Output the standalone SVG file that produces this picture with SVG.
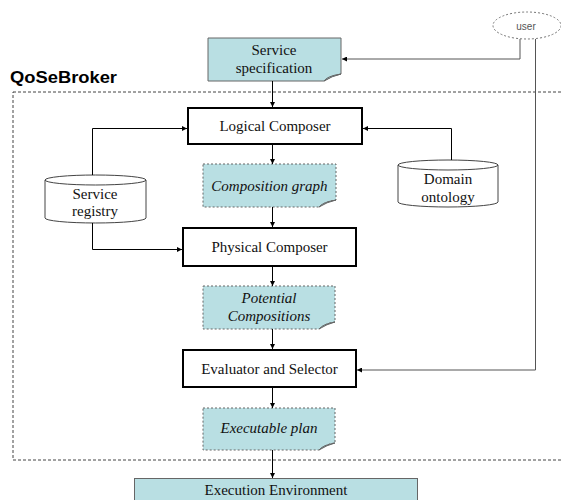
<svg xmlns="http://www.w3.org/2000/svg" width="561" height="500" viewBox="0 0 561 500">
<defs>
<marker id="ah" viewBox="0 0 10 10" refX="10" refY="5" markerWidth="5" markerHeight="5" orient="auto" markerUnits="userSpaceOnUse">
<path d="M0,0 L10,5 L0,10 z" fill="#000"/>
</marker>
<style>
text{font-family:'Liberation Serif','Times New Roman',Times,'DejaVu Serif',serif}
.t{font-size:15px;fill:#111;text-anchor:middle}
.i{font-style:italic}
.s{font-family:'Liberation Sans',Arial,Helvetica,'DejaVu Sans',sans-serif}
.proc{fill:#fff;stroke:#000;stroke-width:2}
.doc{fill:#b9dfe3;stroke:#666;stroke-width:1}
.ddoc{fill:#b9dfe3;stroke:#666;stroke-width:1;stroke-dasharray:2,2}
.fold{fill:#9fc8cc;stroke:#666;stroke-width:1}
.db{fill:#fff;stroke:#444;stroke-width:1}
.c{fill:none;stroke:#000;stroke-width:1}
.g{fill:none;stroke:#555;stroke-width:1}
</style>
</defs>
<rect width="561" height="500" fill="#fff"/>

<g id="qosebroker">
<rect x="13" y="92" width="600" height="368" fill="none" stroke="#444" stroke-width="1" stroke-dasharray="3,2"/>
<text class="s" x="10" y="83" font-size="16" font-weight="bold" fill="#000" textLength="107" lengthAdjust="spacingAndGlyphs">QoSeBroker</text>
</g>

<g id="user">
<ellipse cx="527" cy="25.5" rx="34" ry="13.5" fill="#fff" stroke="#777" stroke-width="1" stroke-dasharray="2,2"/>
<text class="s" x="526" y="29.5" font-size="10" fill="#555" text-anchor="middle">user</text>
</g>

<g id="service-specification">
<path class="doc" d="M208,38 H341 V74 Q332,75 324,81 H208 Z"/>
<path class="fold" d="M324,81 Q327,76 341,74 Q332,76 324,81 Z"/>
<text class="t" x="274" y="55">Service</text>
<text class="t" x="274" y="73">specification</text>
</g>

<g id="logical-composer">
<rect class="proc" x="188" y="108" width="174" height="36"/>
<text class="t" x="275" y="131">Logical Composer</text>
</g>

<g id="composition-graph">
<path class="ddoc" d="M203,164 H336 V200 Q326,201 319,207 H203 Z"/>
<path class="fold" d="M319,207 Q323,202 336,200 Q327,202 319,207 Z"/>
<text class="t i" x="269.5" y="191">Composition graph</text>
</g>

<g id="service-registry">
<path class="db" d="M45,180 V218 A50.5,5 0 0 0 146,218 V180"/>
<ellipse class="db" cx="95.5" cy="180" rx="50.5" ry="5"/>
<text class="t" x="95" y="199">Service</text>
<text class="t" x="95" y="216">registry</text>
</g>

<g id="domain-ontology">
<path class="db" d="M398,165 V202 A50,5 0 0 0 498,202 V165"/>
<ellipse class="db" cx="448" cy="165" rx="50" ry="5"/>
<text class="t" x="448" y="184">Domain</text>
<text class="t" x="448" y="202">ontology</text>
</g>

<g id="physical-composer">
<rect class="proc" x="183" y="228" width="173" height="38"/>
<text class="t" x="269.5" y="252">Physical Composer</text>
</g>

<g id="potential-compositions">
<path class="ddoc" d="M203,286 H335 V322 Q326,323 319,329 H203 Z"/>
<path class="fold" d="M319,329 Q323,324 335,322 Q327,324 319,329 Z"/>
<text class="t i" x="269" y="303">Potential</text>
<text class="t i" x="269" y="321">Compositions</text>
</g>

<g id="evaluator-and-selector">
<rect class="proc" x="183" y="350" width="173" height="37"/>
<text class="t" x="269.5" y="374">Evaluator and Selector</text>
</g>

<g id="executable-plan">
<path class="ddoc" d="M203,408 H335 V443 Q326,444 319,450 H203 Z"/>
<path class="fold" d="M319,450 Q323,445 335,443 Q327,445 319,450 Z"/>
<text class="t i" x="269" y="433">Executable plan</text>
</g>

<g id="execution-environment">
<rect class="doc" x="134.5" y="478.5" width="283" height="30"/>
<text class="t" x="276" y="495">Execution Environment</text>
</g>

<g id="connectors">
<path class="g" d="M520,39 V59 H342" marker-end="url(#ah)"/>
<path class="g" d="M535.5,39 V370 H357" marker-end="url(#ah)"/>
<path class="c" d="M272.5,81 V107" marker-end="url(#ah)"/>
<path class="c" d="M92.5,175 V128.5 H187" marker-end="url(#ah)"/>
<path class="c" d="M451.5,160 V128.5 H363" marker-end="url(#ah)"/>
<path class="c" d="M272.5,145 V164" marker-end="url(#ah)"/>
<path class="c" d="M92.5,223 V249.5 H182" marker-end="url(#ah)"/>
<path class="c" d="M272.5,207 V227" marker-end="url(#ah)"/>
<path class="c" d="M272.5,267 V286" marker-end="url(#ah)"/>
<path class="c" d="M272.5,329 V349" marker-end="url(#ah)"/>
<path class="c" d="M272.5,388 V408" marker-end="url(#ah)"/>
<path class="c" d="M272.5,450 V478" marker-end="url(#ah)"/>
</g>
</svg>
